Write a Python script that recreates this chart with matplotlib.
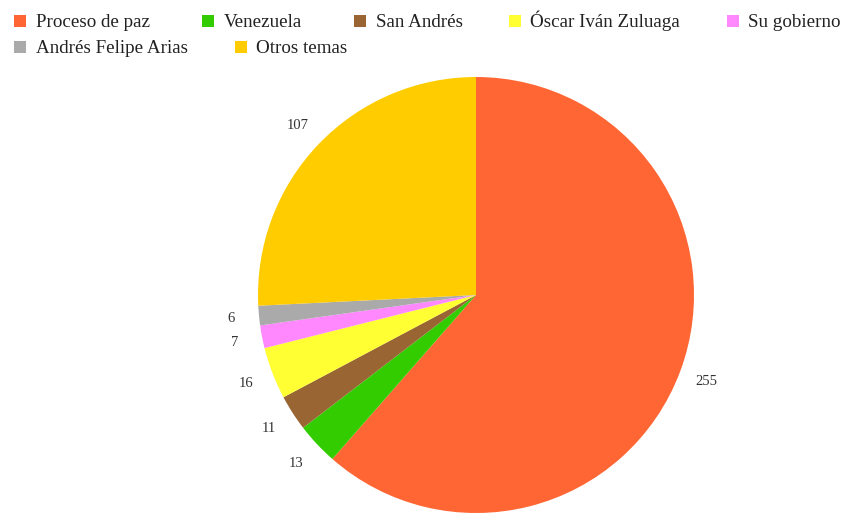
import matplotlib.pyplot as plt
from matplotlib.patches import Rectangle

labels = ["Proceso de paz", "Venezuela", "San Andrés", "Óscar Iván Zuluaga",
          "Su gobierno", "Andrés Felipe Arias", "Otros temas"]
values = [255, 13, 11, 16, 7, 6, 107]
colors = ["#FF6633", "#33CC00", "#996633", "#FFFF33", "#FF88FF", "#AAAAAA", "#FFCC00"]

plt.rcParams["font.family"] = ["Liberation Serif", "DejaVu Serif"]

W, H = 843, 513
fig = plt.figure(figsize=(W / 100, H / 100), dpi=100)

# pie: centre (476, 295) px, radius 218 px
cx, cy, r = 476, 295, 218
ax = fig.add_axes([(cx - r) / W, (H - cy - r) / H, 2 * r / W, 2 * r / H])
wedges, texts = ax.pie(values, colors=colors, startangle=90, counterclock=False,
                       labels=[str(v) for v in values], labeldistance=1.13,
                       wedgeprops=dict(linewidth=0),
                       textprops=dict(fontsize=10.5, color="#333333"))
for t in texts:
    t.set_horizontalalignment("center")
    t.set_verticalalignment("center")
ax.set_xlim(-1, 1)
ax.set_ylim(-1, 1)
ax.set_aspect("equal")
ax.axis("off")

# legend laid out in two flowing rows (marker x, text x, baseline y) in px
legend_pos = [(14, 36, 27), (202, 224, 27), (354, 376, 27), (509, 530, 27),
              (727, 748, 27), (14, 36, 53), (235, 256, 53)]
for (mx, tx, by), lab, col in zip(legend_pos, labels, colors):
    fig.patches.append(Rectangle((mx / W, 1 - by / H), 12 / W, 12 / H,
                                 transform=fig.transFigure, facecolor=col,
                                 edgecolor="none"))
    fig.text(tx / W, 1 - by / H, lab, fontsize=13.7, color="#222222",
             va="baseline", ha="left")

fig.savefig("out.png", dpi=100)
